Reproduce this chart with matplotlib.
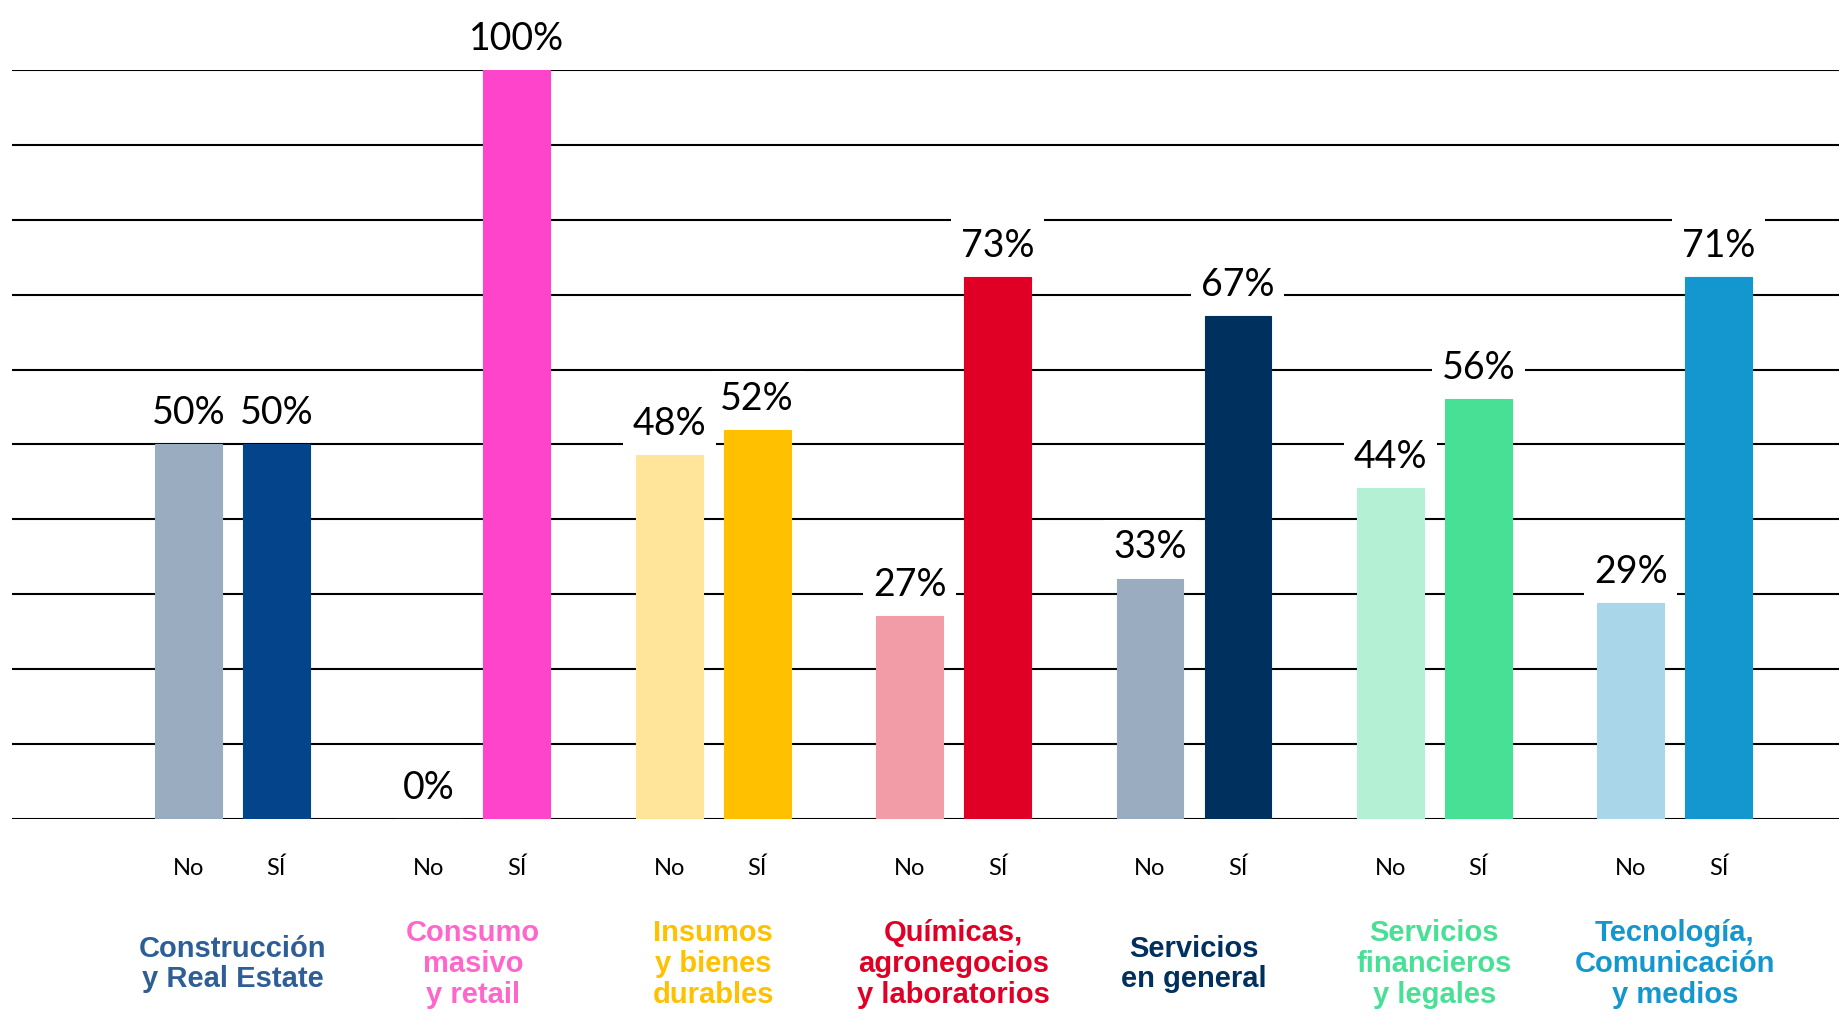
import matplotlib
matplotlib.use("Agg")
import matplotlib.pyplot as plt
import matplotlib.transforms as mtransforms
import numpy as np

categorias = [
    "Construcción\ny Real Estate",
    "Consumo\nmasivo\ny retail",
    "Insumos\ny bienes\ndurables",
    "Químicas,\nagronegocios\ny laboratorios",
    "Servicios\nen general",
    "Servicios\nfinancieros\ny legales",
    "Tecnología,\nComunicación\ny medios",
]
valores_no = [50, 0, 48.6, 27.1, 32.1, 44.2, 28.8]
valores_si = [50, 100, 51.9, 72.4, 67.1, 56.1, 72.4]
etiquetas_no = ["50%", "0%", "48%", "27%", "33%", "44%", "29%"]
etiquetas_si = ["50%", "100%", "52%", "73%", "67%", "56%", "71%"]
respuestas = ["No", "SÍ"]

colores_no = ["#9aacc0", "#ffb3e8", "#ffe599", "#f29ca8", "#9aacc0", "#b4f0d4", "#aad6ea"]
colores_si = ["#03448a", "#ff44cc", "#ffc000", "#e00025", "#00305e", "#48e094", "#1496ce"]
colores_cat = ["#2e5e96", "#ff66cc", "#ffc000", "#e00025", "#00305e", "#48e094", "#1496ce"]

FUENTE = ["Lato", "DejaVu Sans"]
FUENTE_CAT = ["Liberation Sans", "DejaVu Sans"]


def main():
    fig = plt.figure(figsize=(18.39, 10.16), dpi=100)
    ax = fig.add_axes([0.0065, 0.194, 0.9935, 0.737])

    x = np.arange(len(categorias))
    w = 0.278
    off = 0.183

    ax.bar(x - off, valores_no, w, color=colores_no, edgecolor=colores_no, lw=0.8, zorder=2)
    ax.bar(x + off, valores_si, w, color=colores_si, edgecolor=colores_si, lw=0.8, zorder=2)

    caja = dict(facecolor="white", edgecolor="none", pad=7)
    for xi, v, t in zip(x - off, valores_no, etiquetas_no):
        ax.text(xi, v + 2.7, t, ha="center", va="baseline", fontsize=27,
                family=FUENTE, bbox=caja, zorder=3, clip_on=False)
    for xi, v, t in zip(x + off, valores_si, etiquetas_si):
        ax.text(xi, v + 2.7, t, ha="center", va="baseline", fontsize=27,
                family=FUENTE, bbox=caja, zorder=3, clip_on=False)

    ax.set_ylim(0, 100)
    ax.set_xlim(-0.917, len(categorias) - 1 + 0.683)
    ax.set_yticks(np.arange(0, 101, 10))
    ax.set_yticklabels([])
    ax.yaxis.grid(True, color="black", lw=1.5)
    ax.set_axisbelow(True)
    ax.tick_params(axis="y", length=0)

    pos = np.concatenate([x - off, x + off])
    labs = [respuestas[0]] * len(x) + [respuestas[1]] * len(x)
    ax.set_xticks(pos)
    ax.set_xticklabels(labs, fontsize=17, family=FUENTE)
    ax.tick_params(axis="x", length=0, pad=28)

    for s in ax.spines.values():
        s.set_visible(False)

    trans = mtransforms.blended_transform_factory(ax.transData, ax.transAxes)
    for xi, cat, c in zip(x, categorias, colores_cat):
        ax.text(xi, -0.1936, cat, transform=trans, ha="center", va="center",
                fontsize=21, fontweight="bold", color=c, family=FUENTE_CAT,
                linespacing=1.12)

    fig.savefig("out.png", dpi=100)


if __name__ == "__main__":
    main()
